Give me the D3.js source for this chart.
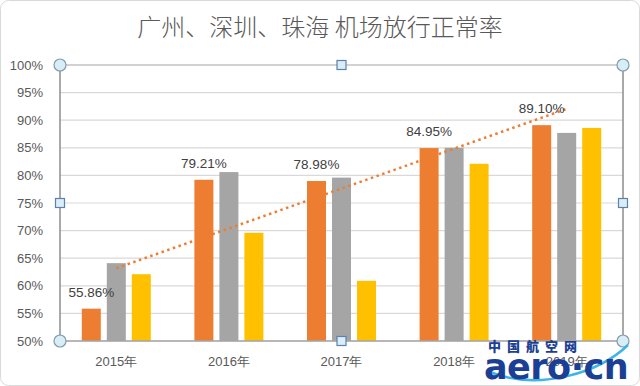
<!DOCTYPE html>
<html>
<head>
<meta charset="utf-8">
<script src="https://cdn.jsdelivr.net/npm/d3@7"></script>
<style>
  body { margin: 0; background: #fff; }
  svg text { font-family: "Liberation Sans", "Open Sans", sans-serif; }
</style>
</head>
<body>
<div id="chart"></div>
<script>
// chart data
var years = ["2015年", "2016年", "2017年", "2018年", "2019年"];
var guangzhou = [55.86, 79.21, 78.98, 84.95, 89.10];
var shenzhen = [64.1, 80.6, 79.6, 85.0, 87.7];
var zhuhai = [62.1, 69.6, 60.9, 82.1, 88.6];
var yTicks = [50, 55, 60, 65, 70, 75, 80, 85, 90, 95, 100];

var width = 640, height = 386;
var margin = { top: 65, right: 17, bottom: 45, left: 60 };
var colors = ["#ED7D31", "#A5A5A5", "#FFC000"];

var svg = d3.select("#chart").append("svg")
    .attr("width", width)
    .attr("height", height);

// outer frame
svg.append("rect")
    .attr("x", 0.5).attr("y", 0.5)
    .attr("width", width - 1).attr("height", height - 1)
    .attr("rx", 8)
    .attr("fill", "#fff")
    .attr("stroke", "#d9d9d9");

svg.append("text")
    .attr("x", 320).attr("y", 36)
    .attr("text-anchor", "middle")
    .style("font-family", "'Noto Sans CJK SC', sans-serif")
    .style("font-weight", 300)
    .style("font-size", "24px")
    .attr("fill", "#595959")
    .text("广州、深圳、珠海 机场放行正常率");

var x = d3.scaleBand()
    .domain(years)
    .range([margin.left, width - margin.right]);

var xSeries = d3.scaleBand()
    .domain([0, 1, 2])
    .range([-37.5, 37.5])
    .paddingInner(0.24)
    .paddingOuter(0.12);

var y = d3.scaleLinear()
    .domain([50, 100])
    .range([height - margin.bottom, margin.top]);

// gridlines
svg.append("g")
    .selectAll("line")
    .data(yTicks)
    .enter().append("line")
    .attr("x1", margin.left)
    .attr("x2", width - margin.right)
    .attr("y1", function (d) { return y(d); })
    .attr("y2", function (d) { return y(d); })
    .attr("stroke", function (d) { return d === 100 ? "#a6a6a6" : "#d9d9d9"; })
    .attr("stroke-width", 1.2);

// y labels
svg.append("g")
    .selectAll("text")
    .data(yTicks)
    .enter().append("text")
    .attr("x", 43)
    .attr("y", function (d) { return y(d) + 4.5; })
    .attr("text-anchor", "end")
    .style("font-size", "13px")
    .attr("fill", "#595959")
    .text(function (d) { return d + "%"; });

// bars
var series = [guangzhou, shenzhen, zhuhai];
series.forEach(function (values, s) {
    svg.append("g")
        .selectAll("rect")
        .data(values)
        .enter().append("rect")
        .attr("x", function (d, i) { return x(years[i]) + x.bandwidth() / 2 + xSeries(s); })
        .attr("y", function (d) { return y(d); })
        .attr("width", xSeries.bandwidth())
        .attr("height", function (d) { return y(50) - y(d); })
        .attr("fill", colors[s]);
});

// plot frame lines
svg.append("line")
    .attr("x1", margin.left).attr("x2", margin.left)
    .attr("y1", y(100)).attr("y2", y(50))
    .attr("stroke", "#8c8c8c").attr("stroke-width", 1.5);
svg.append("line")
    .attr("x1", width - margin.right).attr("x2", width - margin.right)
    .attr("y1", y(100)).attr("y2", y(50))
    .attr("stroke", "#8c8c8c").attr("stroke-width", 1.5);
svg.append("line")
    .attr("x1", margin.left).attr("x2", width - margin.right)
    .attr("y1", y(50)).attr("y2", y(50))
    .attr("stroke", "#a6a6a6").attr("stroke-width", 1.5);

// linear trendline of the guangzhou series
var n = guangzhou.length;
var mx = (n + 1) / 2;
var my = d3.mean(guangzhou);
var slope = d3.sum(guangzhou, function (d, i) { return (i + 1 - mx) * (d - my); }) /
    d3.sum(guangzhou, function (d, i) { return (i + 1 - mx) * (i + 1 - mx); });
var trend = [0, n - 1].map(function (i) { return [i, my + slope * (i + 1 - mx)]; });

svg.append("path")
    .datum(trend)
    .attr("d", d3.line()
        .x(function (d) { return x(years[d[0]]) + x.bandwidth() / 2; })
        .y(function (d) { return y(d[1]); }))
    .attr("fill", "none")
    .attr("stroke", "#ED7D31")
    .attr("stroke-width", 2.5)
    .attr("stroke-dasharray", "2.5,3.5");

// data labels on guangzhou bars
svg.append("g")
    .selectAll("text")
    .data(guangzhou)
    .enter().append("text")
    .attr("x", function (d, i) { return x(years[i]) + x.bandwidth() / 2 + xSeries(0) + xSeries.bandwidth() / 2; })
    .attr("y", function (d) { return y(d) - 12; })
    .attr("text-anchor", "middle")
    .style("font-size", "13.5px")
    .attr("fill", "#404040")
    .text(function (d) { return d.toFixed(2) + "%"; });

// category labels
svg.append("g")
    .selectAll("text")
    .data(years)
    .enter().append("text")
    .attr("x", function (d) { return x(d) + x.bandwidth() / 2; })
    .attr("y", 366)
    .attr("text-anchor", "middle")
    .style("font-size", "13px")
    .attr("fill", "#595959")
    .text(function (d) { return d; });

// selection handles
var x0 = margin.left, x1 = width - margin.right, xm = (x0 + x1) / 2;
var y0 = y(100), y1 = y(50), ym = (y0 + y1) / 2;
var corners = [[x0, y0], [x1, y0], [x0, y1], [x1, y1]];
var mids = [[xm, y0], [x0, ym], [x1, ym], [xm, y1]];

svg.append("g").selectAll("circle")
    .data(corners)
    .enter().append("circle")
    .attr("cx", function (d) { return d[0]; })
    .attr("cy", function (d) { return d[1]; })
    .attr("r", 6)
    .attr("fill", "#d7eef7")
    .attr("stroke", "#8499a8")
    .attr("stroke-width", 1.2);

svg.append("g").selectAll("rect")
    .data(mids)
    .enter().append("rect")
    .attr("x", function (d) { return d[0] - 4.5; })
    .attr("y", function (d) { return d[1] - 4.5; })
    .attr("width", 9).attr("height", 9)
    .attr("fill", "#dcedf8")
    .attr("stroke", "#5a82ad")
    .attr("stroke-width", 1.2);

// watermark (sits over the 2019年 label, as in the source image)
var mark = svg.append("g");
mark.append("path")
    .attr("d", "M490,372 C540,392 600,372 628,345")
    .attr("fill", "none")
    .attr("stroke", "#3fb4e8")
    .attr("stroke-width", 2.5);
mark.append("text")
    .attr("x", 488).attr("y", 351)
    .style("font-family", "'Noto Sans CJK SC', sans-serif")
    .style("font-weight", 900)
    .style("font-size", "13px")
    .style("letter-spacing", "6px")
    .attr("fill", "#1b3f94")
    .text("中国航空网");
mark.append("text")
    .attr("x", 484).attr("y", 379)
    .style("font-family", "'DejaVu Sans', sans-serif")
    .style("font-weight", 700)
    .style("font-size", "35px")
    .style("letter-spacing", "-0.5px")
    .attr("fill", "#1b3f94")
    .text("aero·cn");
</script>
</body>
</html>
